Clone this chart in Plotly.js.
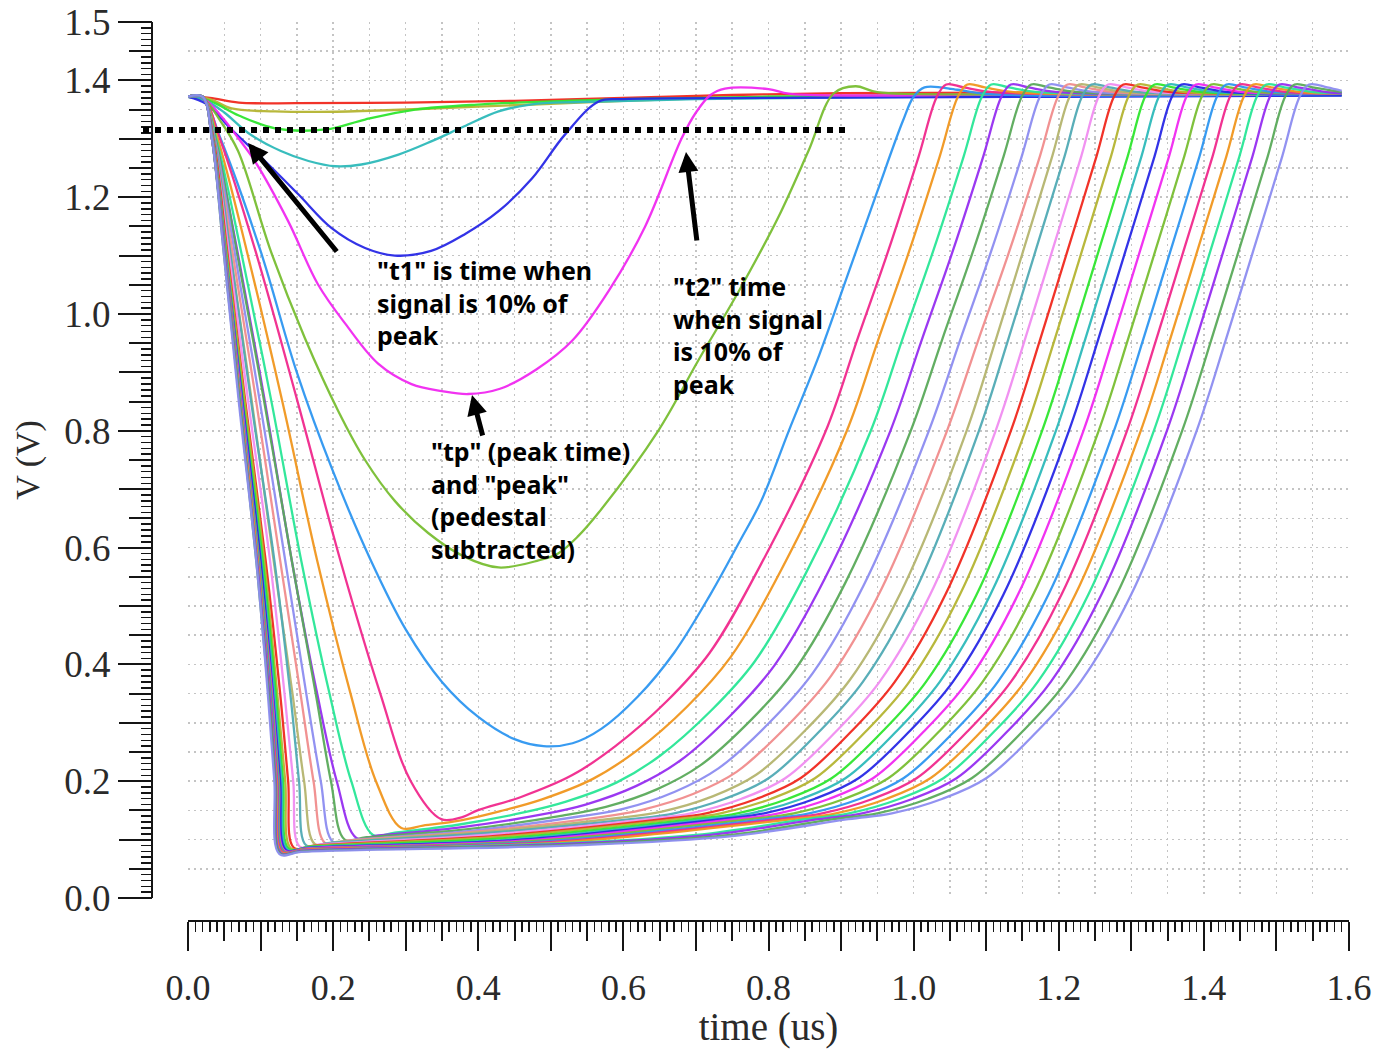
<!DOCTYPE html>
<html>
<head>
<meta charset="utf-8">
<script src="https://cdn.plot.ly/plotly-3.0.1.min.js"></script>
<style>html,body{margin:0;padding:0;background:#fff}#chart{width:1391px;height:1049px}</style>
</head>
<body>
<div id="chart"></div>
<script>
// ---------- data (time in us, voltage in V) ----------
const t01 = [0, .03, .07, .15, .3, .45, .6, .75, .9, 1.2, 1.59];
const v01 = [1.372, 1.370, 1.362, 1.361, 1.362, 1.365, 1.370, 1.375, 1.378, 1.379, 1.379];
const t02 = [0, .03, .06, .12, .18, .25, .32, .4, .5, .6, .8, 1.2, 1.59];
const v02 = [1.372, 1.368, 1.352, 1.347, 1.346, 1.348, 1.351, 1.355, 1.360, 1.365, 1.372, 1.376, 1.376];
const t03 = [0, .03, .07, .12, .19, .244, .313, .405, .5, .6, .8, 1.2, 1.59];
const v03 = [1.372, 1.365, 1.34, 1.318, 1.316, 1.333, 1.35, 1.359, 1.364, 1.368, 1.372, 1.375, 1.375];
const t04 = [0, .025, .05, .083, .128, .166, .203, .239, .29, .336, .38, .428, .474, .54, .7, 1.0, 1.59];
const v04 = [1.372, 1.365, 1.345, 1.31, 1.279, 1.262, 1.253, 1.256, 1.273, 1.296, 1.321, 1.347, 1.359, 1.363, 1.368, 1.372, 1.375];
const t05 = [0, .025, .06, .106, .152, .198, .244, .285, .335, .382, .428, .474, .52, .566, .6, .8, 1.2, 1.59];
const v05 = [1.372, 1.36, 1.316, 1.262, 1.205, 1.147, 1.113, 1.10, 1.108, 1.137, 1.176, 1.232, 1.308, 1.364, 1.368, 1.37, 1.372, 1.374];
const t06 = [0, .02, .045, .07, .092, .138, .179, .217, .262, .308, .35, .386, .43, .48, .53, .58, .63, .68, .70, .72, .74, .8, .83, 1.2, 1.59];
const v06 = [1.372, 1.370, 1.34, 1.30, 1.262, 1.159, 1.051, .983, .915, .880, .868, .863, .872, .905, .955, 1.04, 1.15, 1.30, 1.345, 1.375, 1.386, 1.385, 1.377, 1.377, 1.377];
const t07 = [0, .02, .045, .069, .114, .161, .207, .244, .285, .331, .38, .428, .483, .51, .538, .566, .648, .703, .759, .814, .855, .89, .92, .95, 1.2, 1.59];
const v07 = [1.372, 1.370, 1.33, 1.279, 1.108, .959, .834, .75, .68, .625, .585, .566, .578, .59, .62, .66, .8, .92, 1.039, 1.167, 1.279, 1.378, 1.39, 1.38, 1.377, 1.377];
const t08 = [0, .02, .045, .100, .15, .2, .252, .3, .35, .4, .45, .49, .53, .57, .62, .67, .72, .76, .79, .828, .87, .91, .95, .985, 1.0, 1.015, 1.06, 1.1, 1.59];
const v08 = [1.372, 1.370, 1.30, 1.108, .9, .73, .578, .46, .37, .31, .272, .26, .265, .29, .345, .42, .52, .61, .68, .8, .93, 1.07, 1.21, 1.33, 1.372, 1.388, 1.384, 1.377, 1.377];
const t09 = [0, .02, .044, .093, .151, .210, .265, .307, .349, .379, .399, .459, .529, .589, .659, .719, .789, .879, .922, .965, 1.007, 1.032, 1.045, 1.069, 1.109, 1.59];
const v09 = [1.372, 1.372, 1.30, 1.108, .85, .578, .35, .2, .135, .139, .150, .173, .210, .260, .336, .420, .570, .8, .955, 1.108, 1.27, 1.372, 1.393, 1.388, 1.38, 1.378];
const t10 = [0, .02, .041, .081, .130, .178, .224, .259, .294, .324, .376, .428, .488, .558, .618, .688, .748, .818, .908, .951, .994, 1.036, 1.061, 1.074, 1.098, 1.138, 1.59];
const v10 = [1.372, 1.372, 1.30, 1.108, .85, .578, .35, .2, .12, .124, .133, .148, .169, .204, .252, .328, .413, .563, .8, .955, 1.108, 1.27, 1.372, 1.393, 1.388, 1.38, 1.378];
const t11 = [0, .02, .039, .073, .115, .156, .195, .225, .255, .285, .37, .461, .521, .591, .651, .721, .781, .851, .941, .984, 1.027, 1.069, 1.094, 1.107, 1.131, 1.171, 1.59];
const v11 = [1.372, 1.372, 1.30, 1.108, .85, .578, .35, .2, .108, .112, .125, .146, .165, .198, .244, .321, .405, .555, .8, .955, 1.108, 1.27, 1.372, 1.393, 1.388, 1.38, 1.378];
const t12 = [0, .02, .037, .068, .106, .143, .178, .205, .232, .262, .37, .488, .548, .618, .678, .748, .808, .878, .968, 1.011, 1.054, 1.096, 1.121, 1.134, 1.158, 1.198, 1.59];
const v12 = [1.372, 1.372, 1.30, 1.108, .85, .578, .35, .2, .103, .107, .120, .143, .160, .192, .235, .313, .398, .548, .8, .955, 1.108, 1.27, 1.372, 1.393, 1.388, 1.38, 1.378];
const t13 = [0, .02, .038, .067, .105, .143, .176, .197, .216, .246, .38, .516, .576, .646, .706, .776, .836, .906, .996, 1.039, 1.082, 1.124, 1.149, 1.162, 1.186, 1.226, 1.59];
const v13 = [1.372, 1.372, 1.30, 1.108, .85, .578, .35, .2, .100, .104, .117, .141, .156, .186, .227, .305, .390, .540, .8, .955, 1.108, 1.27, 1.372, 1.393, 1.388, 1.38, 1.378];
const t14 = [0, .02, .037, .064, .099, .134, .163, .183, .200, .230, .39, .541, .601, .671, .731, .801, .861, .931, 1.021, 1.064, 1.107, 1.149, 1.174, 1.187, 1.211, 1.251, 1.59];
const v14 = [1.372, 1.372, 1.30, 1.108, .85, .578, .35, .2, .096, .100, .115, .140, .153, .182, .222, .300, .385, .535, .8, .955, 1.108, 1.27, 1.372, 1.393, 1.388, 1.38, 1.378];
const t15 = [0, .02, .036, .061, .094, .127, .155, .173, .189, .219, .40, .566, .626, .696, .756, .826, .886, .956, 1.046, 1.089, 1.132, 1.174, 1.199, 1.212, 1.236, 1.276, 1.59];
const v15 = [1.372, 1.372, 1.30, 1.108, .85, .578, .35, .2, .094, .098, .114, .138, .151, .178, .216, .295, .380, .530, .8, .955, 1.108, 1.27, 1.372, 1.393, 1.388, 1.38, 1.378];
const t16 = [0, .02, .036, .058, .088, .118, .144, .160, .175, .205, .41, .593, .653, .723, .783, .853, .913, .983, 1.073, 1.113, 1.151, 1.191, 1.215, 1.228, 1.253, 1.293, 1.59];
const v16 = [1.372, 1.372, 1.30, 1.108, .85, .578, .35, .2, .092, .096, .113, .137, .148, .174, .211, .290, .375, .525, .8, .955, 1.108, 1.27, 1.372, 1.393, 1.388, 1.38, 1.378];
const t17 = [0, .02, .036, .058, .087, .119, .141, .153, .163, .193, .40, .610, .670, .740, .800, .870, .930, 1.000, 1.090, 1.130, 1.168, 1.208, 1.232, 1.245, 1.270, 1.310, 1.59];
const v17 = [1.372, 1.372, 1.30, 1.108, .85, .578, .35, .2, .090, .094, .110, .135, .145, .170, .205, .285, .370, .520, .8, .955, 1.108, 1.27, 1.372, 1.393, 1.388, 1.38, 1.378];
const t18 = [0, .02, .035, .056, .083, .113, .133, .145, .154, .184, .41, .633, .693, .763, .823, .893, .953, 1.023, 1.113, 1.153, 1.191, 1.231, 1.255, 1.268, 1.293, 1.333, 1.59];
const v18 = [1.372, 1.372, 1.30, 1.108, .85, .578, .35, .2, .088, .092, .108, .135, .145, .170, .205, .285, .370, .520, .8, .955, 1.108, 1.27, 1.372, 1.393, 1.388, 1.38, 1.378];
const t19 = [0, .02, .035, .054, .079, .107, .127, .138, .146, .176, .42, .654, .714, .784, .844, .914, .974, 1.044, 1.134, 1.174, 1.212, 1.252, 1.276, 1.289, 1.314, 1.354, 1.59];
const v19 = [1.372, 1.372, 1.30, 1.108, .85, .578, .35, .2, .086, .090, .106, .135, .145, .170, .205, .285, .370, .520, .8, .955, 1.108, 1.27, 1.372, 1.393, 1.388, 1.38, 1.378];
const t20 = [0, .02, .034, .053, .078, .105, .123, .134, .142, .172, .42, .674, .734, .804, .864, .934, .994, 1.064, 1.154, 1.194, 1.232, 1.272, 1.296, 1.309, 1.334, 1.374, 1.59];
const v20 = [1.372, 1.372, 1.30, 1.108, .85, .578, .35, .2, .085, .089, .104, .135, .145, .170, .205, .285, .370, .520, .8, .955, 1.108, 1.27, 1.372, 1.393, 1.388, 1.38, 1.378];
const t21 = [0, .02, .034, .052, .076, .103, .121, .131, .139, .169, .43, .697, .757, .827, .887, .957, 1.017, 1.087, 1.177, 1.217, 1.255, 1.295, 1.319, 1.332, 1.357, 1.397, 1.59];
const v21 = [1.372, 1.372, 1.30, 1.108, .85, .578, .35, .2, .084, .088, .102, .135, .145, .170, .205, .285, .370, .520, .8, .955, 1.108, 1.27, 1.372, 1.393, 1.388, 1.38, 1.378];
const t22 = [0, .02, .034, .052, .075, .101, .119, .129, .137, .167, .44, .716, .776, .846, .906, .976, 1.036, 1.106, 1.196, 1.236, 1.274, 1.314, 1.338, 1.351, 1.376, 1.416, 1.59];
const v22 = [1.372, 1.372, 1.30, 1.108, .85, .578, .35, .2, .083, .087, .100, .135, .145, .170, .205, .285, .370, .520, .8, .955, 1.108, 1.27, 1.372, 1.393, 1.388, 1.38, 1.378];
const t23 = [0, .02, .034, .051, .075, .100, .117, .127, .135, .165, .45, .734, .794, .864, .924, .994, 1.054, 1.124, 1.214, 1.254, 1.292, 1.332, 1.356, 1.369, 1.394, 1.434, 1.59];
const v23 = [1.372, 1.372, 1.30, 1.108, .85, .578, .35, .2, .082, .086, .099, .135, .145, .170, .205, .285, .370, .520, .8, .955, 1.108, 1.27, 1.372, 1.393, 1.388, 1.38, 1.378];
const t24 = [0, .02, .034, .051, .074, .098, .116, .125, .133, .163, .46, .754, .814, .884, .944, 1.014, 1.074, 1.144, 1.234, 1.274, 1.312, 1.352, 1.376, 1.389, 1.414, 1.454, 1.59];
const v24 = [1.372, 1.372, 1.30, 1.108, .85, .578, .35, .2, .081, .085, .098, .135, .145, .170, .205, .285, .370, .520, .8, .955, 1.108, 1.27, 1.372, 1.393, 1.388, 1.38, 1.378];
const t25 = [0, .02, .034, .051, .073, .098, .115, .125, .132, .162, .47, .775, .835, .905, .965, 1.035, 1.095, 1.165, 1.255, 1.295, 1.333, 1.373, 1.397, 1.410, 1.435, 1.475, 1.59];
const v25 = [1.372, 1.372, 1.30, 1.108, .85, .578, .35, .2, .080, .084, .097, .135, .145, .170, .205, .285, .370, .520, .8, .955, 1.108, 1.27, 1.372, 1.393, 1.388, 1.38, 1.378];
const t26 = [0, .02, .033, .050, .073, .097, .114, .124, .131, .161, .48, .796, .856, .926, .986, 1.056, 1.116, 1.186, 1.276, 1.316, 1.354, 1.394, 1.418, 1.431, 1.456, 1.496, 1.59];
const v26 = [1.372, 1.372, 1.30, 1.108, .85, .578, .35, .2, .079, .083, .096, .135, .145, .170, .205, .285, .370, .520, .8, .955, 1.108, 1.27, 1.372, 1.393, 1.388, 1.38, 1.378];
const t27 = [0, .02, .033, .050, .072, .096, .113, .123, .130, .160, .49, .814, .874, .944, 1.004, 1.074, 1.134, 1.204, 1.294, 1.334, 1.372, 1.412, 1.436, 1.449, 1.474, 1.514, 1.59];
const v27 = [1.372, 1.372, 1.30, 1.108, .85, .578, .35, .2, .079, .083, .095, .135, .145, .170, .205, .285, .370, .520, .8, .955, 1.108, 1.27, 1.372, 1.393, 1.388, 1.38, 1.378];
const t28 = [0, .02, .033, .050, .072, .096, .112, .122, .129, .159, .50, .833, .893, .963, 1.023, 1.093, 1.153, 1.223, 1.313, 1.353, 1.391, 1.431, 1.455, 1.468, 1.493, 1.533, 1.59];
const v28 = [1.372, 1.372, 1.30, 1.108, .85, .578, .35, .2, .078, .082, .094, .135, .145, .170, .205, .285, .370, .520, .8, .955, 1.108, 1.27, 1.372, 1.393, 1.388, 1.38, 1.378];
const t29 = [0, .02, .033, .050, .071, .095, .112, .121, .128, .158, .50, .70, .851, .911, .981, 1.041, 1.111, 1.171, 1.241, 1.331, 1.371, 1.409, 1.449, 1.473, 1.486, 1.511, 1.551, 1.59];
const v29 = [1.372, 1.372, 1.30, 1.108, .85, .578, .35, .2, .077, .081, .093, .108, .135, .145, .170, .205, .285, .370, .520, .8, .955, 1.108, 1.27, 1.372, 1.393, 1.388, 1.38, 1.378];
const t30 = [0, .02, .033, .050, .071, .095, .112, .121, .128, .158, .51, .72, .869, .929, .999, 1.059, 1.129, 1.189, 1.259, 1.349, 1.389, 1.427, 1.467, 1.491, 1.504, 1.529, 1.569, 1.59];
const v30 = [1.372, 1.372, 1.30, 1.108, .85, .578, .35, .2, .077, .081, .092, .108, .135, .145, .170, .205, .285, .370, .520, .8, .955, 1.108, 1.27, 1.372, 1.393, 1.388, 1.38, 1.378];
const t31 = [0, .02, .033, .049, .071, .094, .111, .120, .127, .157, .52, .74, .890, .950, 1.020, 1.080, 1.150, 1.210, 1.280, 1.370, 1.410, 1.448, 1.488, 1.512, 1.525, 1.550, 1.590];
const v31 = [1.372, 1.372, 1.30, 1.108, .85, .578, .35, .2, .076, .080, .091, .107, .135, .145, .170, .205, .285, .370, .520, .8, .955, 1.108, 1.27, 1.372, 1.393, 1.388, 1.38];
const t32 = [0, .02, .033, .049, .070, .094, .110, .119, .126, .156, .53, .75, .910, .970, 1.040, 1.100, 1.170, 1.230, 1.300, 1.390, 1.430, 1.468, 1.508, 1.532, 1.545, 1.570, 1.590];
const v32 = [1.372, 1.372, 1.30, 1.108, .85, .578, .35, .2, .075, .079, .090, .106, .135, .145, .170, .205, .285, .370, .520, .8, .955, 1.108, 1.27, 1.372, 1.393, 1.388, 1.382];

const palette = ['#f0281e', '#b4b432', '#2ee62e', '#2db9b9', '#2828e6', '#f028f0', '#78be32', '#2d96f0', '#f0288c',
                 '#f0961e', '#28e696', '#962df0', '#5aaa5a', '#8c8cf0', '#f08c8c', '#b4b46e', '#50aab4', '#f08cf0'];

const xTickLabels = ['0.0', '0.2', '0.4', '0.6', '0.8', '1.0', '1.2', '1.4', '1.6'];
const xTickVals = [0, 0.2, 0.4, 0.6, 0.8, 1.0, 1.2, 1.4, 1.6];
const yTickLabels = ['0.0', '0.2', '0.4', '0.6', '0.8', '1.0', '1.2', '1.4', '1.5'];
const yTickVals = [0, 0.2, 0.4, 0.6, 0.8, 1.0, 1.2, 1.4, 1.5];

// reference level drawn as a dotted line (10% of peak)
const thresholdLevel = 1.315;

const noteT1 = '"t1" is time when<br>signal is 10% of<br>peak';
const noteT2 = '"t2" time<br>when signal<br>is 10% of<br>peak';
const noteTp = '"tp" (peak time)<br>and "peak"<br>(pedestal<br>subtracted)';

// ---------- build ----------
const T = [t01,t02,t03,t04,t05,t06,t07,t08,t09,t10,t11,t12,t13,t14,t15,t16,t17,t18,t19,t20,t21,t22,t23,t24,t25,t26,t27,t28,t29,t30,t31,t32];
const V = [v01,v02,v03,v04,v05,v06,v07,v08,v09,v10,v11,v12,v13,v14,v15,v16,v17,v18,v19,v20,v21,v22,v23,v24,v25,v26,v27,v28,v29,v30,v31,v32];

const traces = T.map((tt, i) => ({
  x: tt, y: V[i], type: 'scatter', mode: 'lines',
  line: {color: palette[i % palette.length], width: 2.3, shape: 'spline', smoothing: 1},
  opacity: 0.95, hoverinfo: 'skip', showlegend: false
}));
// empty helper trace to hold the overlay tick axes
traces.push({x: [], y: [], xaxis: 'x2', yaxis: 'y2', type: 'scatter', mode: 'lines', showlegend: false, hoverinfo: 'skip'});

const serif = 'Liberation Serif, Times New Roman, serif';
const ink = '#151515';
const gridCol = '#c4c4c4';
const noteFont = {family: 'Noto Sans, DejaVu Sans, sans-serif', size: 25, color: '#000', weight: 'bold'};

const W = 1391, H = 1049;
const mL = 152, mR = 42, mT = 22, mB = 128;
const xDom0 = (188 - mL) / (W - mL - mR);
const yDom0 = (921 - 898) / (H - mT - mB);

const layout = {
  width: W, height: H,
  margin: {l: mL, r: mR, t: mT, b: mB, pad: 0},
  paper_bgcolor: '#fff', plot_bgcolor: '#fff',
  showlegend: false,
  xaxis: {
    domain: [xDom0, 1], anchor: 'free', position: 0, range: [0, 1.6],
    tickmode: 'array', tickvals: xTickVals, ticktext: xTickLabels,
    ticks: 'outside', ticklen: 29, tickwidth: 2, tickcolor: ink,
    showline: true, linewidth: 2, linecolor: ink, zeroline: false,
    showgrid: true, gridcolor: gridCol, gridwidth: 1.5, griddash: '2px,4px',
    minor: {tickmode: 'linear', tick0: 0, dtick: 0.05, ticks: 'outside', ticklen: 19, tickwidth: 2, tickcolor: ink,
            showgrid: true, gridcolor: gridCol, gridwidth: 1.5, griddash: '2px,4px'},
    tickfont: {family: serif, size: 36, color: '#2a2a2a'}, ticklabelstandoff: 6,
    title: {text: 'time (us)', font: {family: serif, size: 39, color: '#2a2a2a'}, standoff: 6},
    automargin: false, fixedrange: true
  },
  xaxis2: {
    overlaying: 'x', anchor: 'free', position: 0, range: [0, 1.6],
    tickmode: 'linear', tick0: 0, dtick: 0.1, ticks: 'outside', ticklen: 29, tickwidth: 2, tickcolor: ink,
    showticklabels: false, showgrid: false, showline: false, zeroline: false,
    minor: {tickmode: 'linear', tick0: 0, dtick: 0.01, ticks: 'outside', ticklen: 10, tickwidth: 1.5, tickcolor: ink, showgrid: false},
    automargin: false, fixedrange: true
  },
  yaxis: {
    domain: [yDom0, 1], anchor: 'free', position: 0, range: [0, 1.5],
    tickmode: 'array', tickvals: yTickVals, ticktext: yTickLabels,
    ticks: 'outside', ticklen: 33, tickwidth: 2, tickcolor: ink,
    showline: true, linewidth: 2, linecolor: ink, zeroline: false,
    showgrid: true, gridcolor: gridCol, gridwidth: 1.5, griddash: '2px,4px',
    minor: {tickmode: 'linear', tick0: 0, dtick: 0.05, ticks: 'outside', ticklen: 22, tickwidth: 2, tickcolor: ink,
            showgrid: true, gridcolor: gridCol, gridwidth: 1.5, griddash: '2px,4px'},
    tickfont: {family: serif, size: 37, color: '#2a2a2a'}, ticklabelstandoff: 0,
    title: {text: 'V (V)', font: {family: serif, size: 34, color: '#2a2a2a'}, standoff: 13},
    automargin: false, fixedrange: true
  },
  yaxis2: {
    overlaying: 'y', anchor: 'free', position: 0, range: [0, 1.5],
    tickmode: 'linear', tick0: 0, dtick: 0.1, ticks: 'outside', ticklen: 33, tickwidth: 2, tickcolor: ink,
    showticklabels: false, showgrid: false, showline: false, zeroline: false,
    minor: {tickmode: 'linear', tick0: 0, dtick: 0.01, ticks: 'outside', ticklen: 11, tickwidth: 1.5, tickcolor: ink, showgrid: false},
    automargin: false, fixedrange: true
  },
  shapes: [{
    type: 'line', xref: 'paper', yref: 'y',
    x0: (143 - mL) / (W - mL - mR), x1: (848 - mL) / (W - mL - mR),
    y0: thresholdLevel, y1: thresholdLevel,
    line: {color: '#000', width: 6, dash: 'dot'}, layer: 'above'
  }],
  annotations: [
    {x: 0.258, y: 1.0205, xref: 'x', yref: 'y', text: noteT1, showarrow: false, xanchor: 'left', yanchor: 'middle', align: 'left', font: noteFont},
    {x: 0.6657, y: 0.964, xref: 'x', yref: 'y', text: noteT2, showarrow: false, xanchor: 'left', yanchor: 'middle', align: 'left', font: noteFont},
    {x: 0.332, y: 0.6815, xref: 'x', yref: 'y', text: noteTp, showarrow: false, xanchor: 'left', yanchor: 'middle', align: 'left', font: noteFont},
    {x: 0.0827, y: 1.2928, ax: 0.2067, ay: 1.1045, xref: 'x', yref: 'y', axref: 'x', ayref: 'y', text: '', showarrow: true,
     arrowhead: 2, arrowsize: 0.8, arrowwidth: 5, arrowcolor: '#000', standoff: 0},
    {x: 0.6863, y: 1.2774, ax: 0.7015, ay: 1.1233, xref: 'x', yref: 'y', axref: 'x', ayref: 'y', text: '', showarrow: true,
     arrowhead: 2, arrowsize: 0.8, arrowwidth: 5, arrowcolor: '#000', standoff: 0},
    {x: 0.3914, y: 0.8613, ax: 0.4066, ay: 0.7894, xref: 'x', yref: 'y', axref: 'x', ayref: 'y', text: '', showarrow: true,
     arrowhead: 2, arrowsize: 0.8, arrowwidth: 5, arrowcolor: '#000', standoff: 0}
  ]
};

Plotly.newPlot('chart', traces, layout, {staticPlot: true, displayModeBar: false});
</script>
</body>
</html>
